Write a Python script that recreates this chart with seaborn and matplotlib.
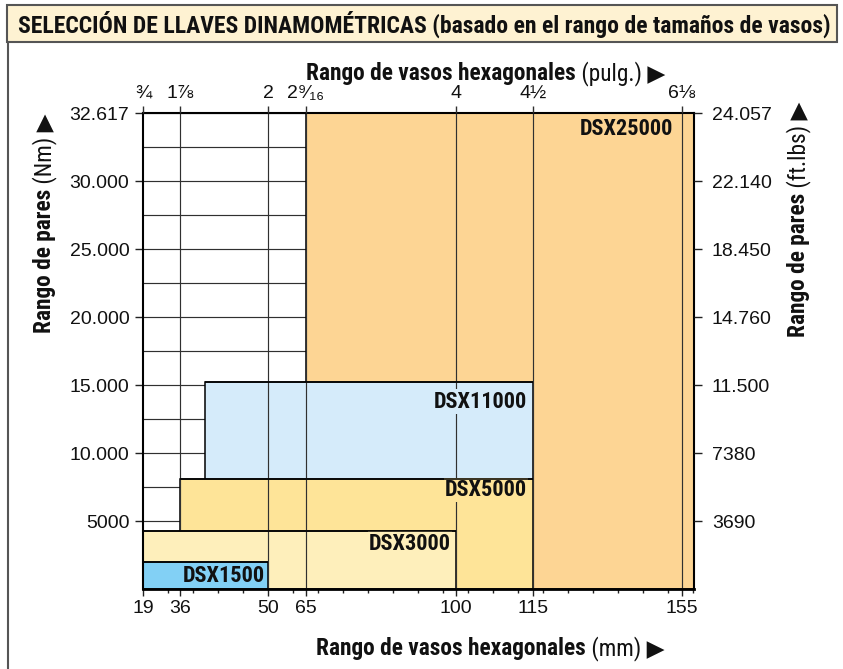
"""Torque wrench selection chart: socket size range vs torque range."""

import matplotlib.pyplot as plt
import numpy as np
import seaborn as sns
from matplotlib.lines import Line2D
from matplotlib.patches import Rectangle
from matplotlib.ticker import FixedLocator, NullLocator


# ---------------------------------------------------------------------------
# Data
# ---------------------------------------------------------------------------

models = ["DSX25000", "DSX11000", "DSX5000", "DSX3000", "DSX1500"]
socket_min_mm = [65, 40, 36, 19, 19]
socket_max_mm = [158, 115, 115, 100, 50]
torque_max_nm = [32617, 15250, 8100, 4300, 1950]

mm_ticks = [19, 36, 50, 65, 100, 115, 155]
mm_labels = ["19", "36", "50", "65", "100", "115", "155"]
inch_labels = ["¾", "1⅞", "2", "2⁹⁄₁₆", "4", "4½", "6⅛"]

nm_ticks = [5000, 10000, 15000, 20000, 25000, 30000, 32617]
nm_labels = ["5000", "10.000", "15.000", "20.000", "25.000", "30.000", "32.617"]
ftlb_labels = ["3690", "7380", "11.500", "14.760", "18.450", "22.140", "24.057"]

TITLE = "SELECCIÓN DE LLAVES DINAMOMÉTRICAS (basado en el rango de tamaños de vasos)"

# ---------------------------------------------------------------------------
# Style
# ---------------------------------------------------------------------------

box_colors = ["#FDD594", "#D5EBFA", "#FEE498", "#FEEFBB", "#82D0F5"]
# label offset (points) from the top-right corner of each box
label_offsets = [(-15, -11.5), (-4.3, -14.4), (-4.3, -8), (-3.6, -9.4), (-2.2, -9.4)]

# The printed chart stretches its axes unevenly, so map values onto
# evenly spaced drawing positions with piecewise-linear scales.
X_ANCHOR_MM = [19, 36, 50, 65, 100, 115, 155, 158]
X_ANCHOR_POS = [0, 1.48, 5.0, 6.51, 12.52, 15.6, 21.56, 22.04]
Y_ANCHOR_NM = [0, 30000, 32617]
Y_ANCHOR_POS = [0, 30000, 35000]

COND = ["Roboto Condensed", "Roboto", "DejaVu Sans"]
REG = ["Liberation Sans", "DejaVu Sans"]
GRID = "#303030"


def x_fwd(v):
    return np.interp(v, X_ANCHOR_MM, X_ANCHOR_POS)


def x_inv(v):
    return np.interp(v, X_ANCHOR_POS, X_ANCHOR_MM)


def y_fwd(v):
    return np.interp(v, Y_ANCHOR_NM, Y_ANCHOR_POS)


def y_inv(v):
    return np.interp(v, Y_ANCHOR_POS, Y_ANCHOR_NM)


sns.set_theme(style="ticks")
plt.rcParams["font.family"] = REG

W, H = 843, 669
fig = plt.figure(figsize=(W / 100, H / 100), dpi=100)
ax = fig.add_axes([143 / W, 1 - 589 / H, 551 / W, 476 / H])

ax.set_xscale("function", functions=(x_fwd, x_inv))
ax.set_yscale("function", functions=(y_fwd, y_inv))

# Boxes, widest first so the smaller ranges sit on top.
widths = [hi - lo for lo, hi in zip(socket_min_mm, socket_max_mm)]
ax.bar(socket_min_mm, torque_max_nm, width=widths, align="edge",
       color=box_colors, edgecolor="black", linewidth=1.1, zorder=1)
# top edges again above the label backgrounds
ax.hlines(torque_max_nm, socket_min_mm, socket_max_mm, colors="black",
          linewidth=1.1, zorder=5)

ax.set_xlim(X_ANCHOR_MM[0], X_ANCHOR_MM[-1])
ax.set_ylim(0, Y_ANCHOR_NM[-1])

# Horizontal grid every 2500 drawing units, vertical grid at the size marks.
ax.yaxis.set_minor_locator(FixedLocator(y_inv(np.arange(2500, 35000, 2500))))
ax.grid(axis="y", which="both", color=GRID, linewidth=0.85)
ax.grid(axis="x", visible=False)
# the 36 mm line only shows above the DSX3000 box
vgrid_min = [torque_max_nm[models.index("DSX3000")] if m == 36 else 0 for m in mm_ticks[1:]]
ax.vlines(mm_ticks[1:], vgrid_min, Y_ANCHOR_NM[-1], colors=GRID, linewidth=0.85, zorder=2)

for name, x0, x1, top, col, off in zip(models, socket_min_mm, socket_max_mm,
                                       torque_max_nm, box_colors, label_offsets):
    ax.annotate(name, xy=(x1, top), xytext=off, textcoords="offset points",
                ha="right", va="center", fontsize=16, fontweight="bold", family=COND,
                color="#111", bbox=dict(boxstyle="square,pad=0.06", fc=col, ec="none"),
                zorder=4)

# Bottom (mm) and left (Nm) axes
ax.set_xticks(mm_ticks, mm_labels)
ax.xaxis.set_minor_locator(FixedLocator(x_inv(np.arange(0, 23))))
ax.set_yticks(nm_ticks, nm_labels)
ax.tick_params(axis="x", which="major", bottom=True, direction="out", length=5,
               width=1, color="#222", pad=3, labelsize=14, labelcolor="#111")
ax.tick_params(axis="x", which="minor", bottom=True, direction="out", length=3,
               width=1, color="#222")
ax.tick_params(axis="y", which="major", left=True, direction="out", length=5.8,
               width=1, color="#222", pad=4, labelsize=14, labelcolor="#111")
ax.tick_params(axis="y", which="minor", length=0)
for side, lw in [("bottom", 2.0), ("left", 1.5), ("top", 1.5), ("right", 1.5)]:
    ax.spines[side].set_color("black")
    ax.spines[side].set_linewidth(lw)
    ax.spines[side].set_zorder(6)

# Right axis (ft.lbs)
ax_r = ax.twinx()
ax_r.set_yscale("function", functions=(y_fwd, y_inv))
ax_r.set_ylim(ax.get_ylim())
ax_r.set_yticks(nm_ticks, ftlb_labels)
ax_r.yaxis.set_minor_locator(NullLocator())
ax_r.tick_params(axis="y", right=True, left=False, labelright=True, labelleft=False,
                 direction="out", length=5.8, width=1, color="#222", pad=7,
                 labelsize=14, labelcolor="#111")

# Top axis (inches)
ax_t = ax.twiny()
ax_t.set_xscale("function", functions=(x_fwd, x_inv))
ax_t.set_xlim(ax.get_xlim())
ax_t.set_xticks(mm_ticks, inch_labels)
ax_t.xaxis.set_minor_locator(NullLocator())
ax_t.tick_params(axis="x", top=True, bottom=False, labeltop=True, labelbottom=False,
                 direction="out", length=5, width=1, color=GRID, pad=3,
                 labelsize=14, labelcolor="#111")
for a in (ax_r, ax_t):
    for s in a.spines.values():
        s.set_visible(False)


def two_part_label(x, y, bold, regular, vertical=False):
    """Bold lead text followed by regular text, sharing one baseline."""
    kw = dict(fontsize=16.8, family=COND, color="#111", rotation_mode="anchor",
              va="baseline", rotation=90 if vertical else 0)
    b = fig.text(x / W, 1 - y / H, bold, ha="right", fontweight="bold", **kw)
    if vertical:
        ax.annotate(regular, xy=(x / W, 1), xycoords=("figure fraction", b),
                    ha="left", **kw)
    else:
        ax.annotate(regular, xy=(1, 1 - y / H), xycoords=(b, "figure fraction"),
                    ha="left", **kw)


two_part_label(576, 80, "Rango de vasos hexagonales", " (pulg.) ▶")
two_part_label(586, 655, "Rango de vasos hexagonales", " (mm) ▶")
two_part_label(51, 189, "Rango de pares", " (Nm) ▶", vertical=True)
two_part_label(805, 193, "Rango de pares", " (ft.lbs) ▶", vertical=True)

# Title bar and page frame
fig.add_artist(Rectangle((7 / W, 1 - 42 / H), 830 / W, 37 / H, transform=fig.transFigure,
                         facecolor="#FEF2D2", edgecolor="#555555", linewidth=1.5, zorder=0))
fig.add_artist(Line2D([8 / W, 8 / W], [0, 1 - 42 / H], color="#555555", linewidth=1.5,
                      transform=fig.transFigure))
fig.text(424 / W, 1 - 33 / H, TITLE, ha="center", va="baseline", fontsize=17,
         fontweight="bold", family=COND, color="#111")

fig.savefig("out.png", dpi=100)
plt.close(fig)
